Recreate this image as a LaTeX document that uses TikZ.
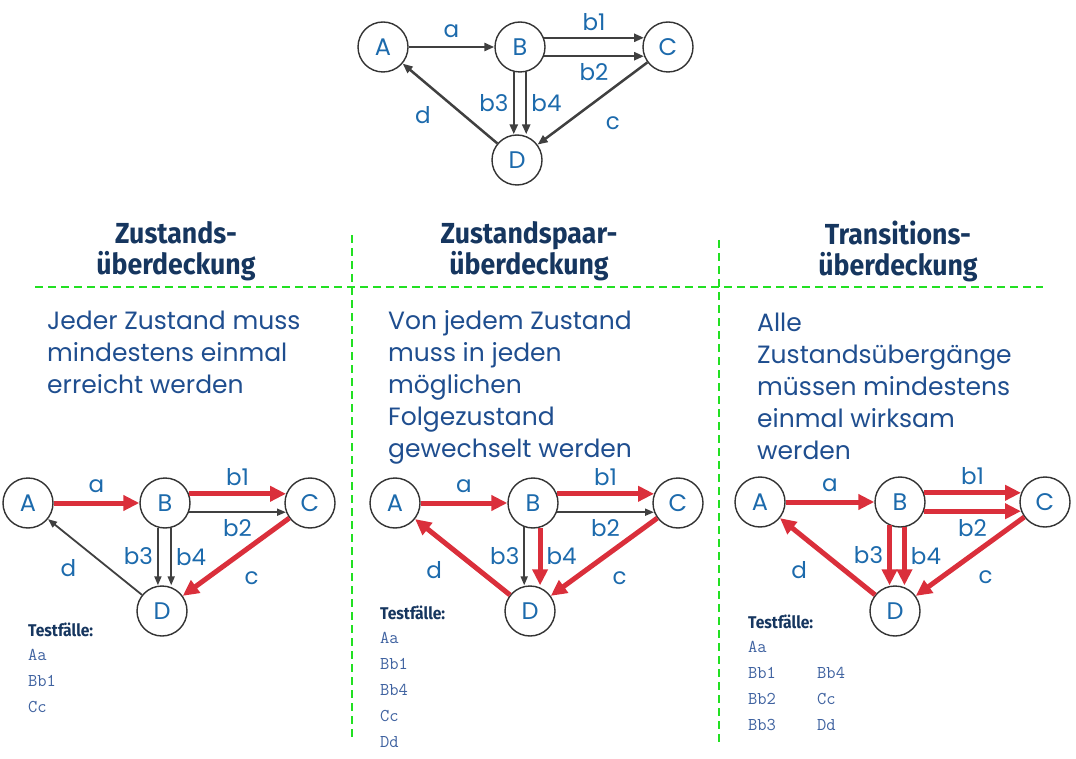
\documentclass[tikz,border=0pt]{standalone}
\usepackage{fontspec}
\setmainfont{Poppins}
\newfontfamily\headfont[FakeStretch=0.92]{Fira Sans}
\usetikzlibrary{arrows.meta, positioning}

\definecolor{textblue}{HTML}{1F4E8F}
\definecolor{labelblue}{HTML}{1C6AAC}
\definecolor{headblue}{HTML}{16365F}
\definecolor{listblue}{HTML}{3F62A0}
\definecolor{arrowgray}{HTML}{404040}
\definecolor{hitred}{HTML}{DA2F3B}
\definecolor{sepgreen}{HTML}{22E022}

\tikzset{
    state/.style={draw=black!80, circle, fill=white, line width=1.4pt,
        minimum size=50pt, inner sep=0pt, text=labelblue,
        font=\fontsize{24}{24}\selectfont},
    lbl/.style={text=labelblue, font=\fontsize{23}{23}\selectfont, inner sep=2pt},
    edge/.style={draw=arrowgray, line width=2.5pt, -{Triangle[length=10pt,width=8pt]}},
    plain/.style={draw=arrowgray, line width=1.8pt, -{Triangle[length=9pt,width=7pt]}},
    hit/.style={draw=hitred, line width=5pt, -{Triangle[length=16pt,width=15pt]}},
    sep/.style={draw=sepgreen, line width=1.5pt, dash pattern=on 8pt off 5pt},
    heading/.style={text=headblue, align=center, font=\headfont\bfseries\fontsize{29}{31}\selectfont},
    desc/.style={text=textblue, align=left, anchor=north west, inner sep=0pt,
        font=\fontsize{25}{32}\selectfont},
    testhead/.style={text=headblue, anchor=west, inner sep=0pt,
        font=\headfont\bfseries\fontsize{17}{17}\selectfont},
    testlist/.style={text=listblue, align=left, anchor=north west, inner sep=0pt,
        font=\ttfamily\fontsize{18}{26}\selectfont}
}

\begin{document}
\begin{tikzpicture}[x=1pt, y=-1pt, >=Stealth]
    \useasboundingbox (0,0) rectangle (1076,759);

    % Overview graph
    \node (A) [state] at (383,47) {A};
    \node (B) [state] at (520,47) {B};
    \node (C) [state] at (668,47) {C};
    \node (D) [state] at (517,160) {D};

    \draw[edge] (A) -- node[lbl, above=6pt]{a} (B);
    \draw[edge] (B.21) -- node[lbl, above=4pt]{b1} (C.159);
    \draw[edge] (B.-21) -- node[lbl, below=4pt]{b2} (C.-159);
    \draw[edge] (B.-104) -- node[lbl, left=2pt]{b3} (B.-104 |- D.north);
    \draw[edge] (B.-76) -- node[lbl, right=2pt]{b4} (B.-76 |- D.north);
    \draw[edge] (C) -- node[lbl, below right=10pt and 10pt]{c} (D);
    \draw[edge] (D) -- node[lbl, below left=0pt and 16pt]{d} (A);

    % Separators
    \draw[sep] (35,287) -- (1043,287);
    \draw[sep] (352,235) -- (352,740);
    \draw[sep] (719,240) -- (719,745);

    % Headings
    \node (h1) [heading] at (176,251) {Zustands-\\überdeckung};
    \node (h2) [heading] at (529,251) {Zustandspaar-\\überdeckung};
    \node (h3) [heading] at (898,251) {Transitions-\\überdeckung};

    % Descriptions
    \node (t1) [desc] at (47,311) {Jeder Zustand muss\\mindestens einmal\\erreicht werden};
    \node (t2) [desc] at (388,310) {Von jedem Zustand\\muss in jeden\\möglichen\\Folgezustand\\gewechselt werden};
    \node (t3) [desc] at (757,313) {Alle\\Zustandsübergänge\\müssen mindestens\\einmal wirksam\\werden};

    % Zustandsueberdeckung
    \node (A1) [state] at (28,503) {A};
    \node (B1) [state] at (165,503) {B};
    \node (C1) [state] at (310,503) {C};
    \node (D1) [state] at (162,611) {D};

    \draw[hit] (A1) -- node[lbl, above=6pt]{a} (B1);
    \draw[hit] (B1.21) -- node[lbl, above=4pt]{b1} (C1.159);
    \draw[plain] (B1.-21) -- node[lbl, below=4pt]{b2} (C1.-159);
    \draw[plain] (B1.-106) -- node[lbl, left=2pt]{b3} (B1.-106 |- D1.north);
    \draw[plain] (B1.-76) -- node[lbl, right=2pt]{b4} (B1.-76 |- D1.north);
    \draw[hit] (C1) -- node[lbl, below right=10pt and 4pt]{c} (D1);
    \draw[plain] (D1) -- node[lbl, below left=0pt and 16pt]{d} (A1);

    \node (th1) [testhead] at (28,630) {Testfälle:};
    \node (l1) [testlist] at (28,649) {Aa\\Bb1\\Cc};

    % Zustandspaarueberdeckung
    \node (A2) [state] at (395,503) {A};
    \node (B2) [state] at (533,503) {B};
    \node (C2) [state] at (678,503) {C};
    \node (D2) [state] at (530,611) {D};

    \draw[hit] (A2) -- node[lbl, above=6pt]{a} (B2);
    \draw[hit] (B2.21) -- node[lbl, above=4pt]{b1} (C2.159);
    \draw[plain] (B2.-21) -- node[lbl, below=4pt]{b2} (C2.-159);
    \draw[plain] (B2.-110) -- node[lbl, left=2pt]{b3} (B2.-110 |- D2.north);
    \draw[hit] (B2.-74) -- node[lbl, right=2pt]{b4} (B2.-74 |- D2.north);
    \draw[hit] (C2) -- node[lbl, below right=10pt and 4pt]{c} (D2);
    \draw[hit] (D2) -- node[lbl, below left=0pt and 16pt]{d} (A2);

    \node (th2) [testhead] at (380,613) {Testfälle:};
    \node (l2) [testlist] at (380,632) {Aa\\Bb1\\Bb4\\Cc\\Dd};

    % Transitionsueberdeckung
    \node (A3) [state] at (760,502) {A};
    \node (B3) [state] at (900,502) {B};
    \node (C3) [state] at (1045,502) {C};
    \node (D3) [state] at (895,611) {D};

    \draw[hit] (A3) -- node[lbl, above=6pt]{a} (B3);
    \draw[hit] (B3.21) -- node[lbl, above=4pt]{b1} (C3.159);
    \draw[hit] (B3.-21) -- node[lbl, below=4pt]{b2} (C3.-159);
    \draw[hit] (B3.-114) -- node[lbl, left=2pt]{b3} (B3.-114 |- D3.north);
    \draw[hit] (B3.-80) -- node[lbl, right=2pt]{b4} (B3.-80 |- D3.north);
    \draw[hit] (C3) -- node[lbl, below right=10pt and 4pt]{c} (D3);
    \draw[hit] (D3) -- node[lbl, below left=0pt and 16pt]{d} (A3);

    \node (th3) [testhead] at (748,622) {Testfälle:};
    \node (l3) [testlist] at (748,641) {Aa\\Bb1\\Bb2\\Bb3};
    \node (l4) [testlist] at (817,667) {Bb4\\Cc\\Dd};
\end{tikzpicture}
\end{document}
